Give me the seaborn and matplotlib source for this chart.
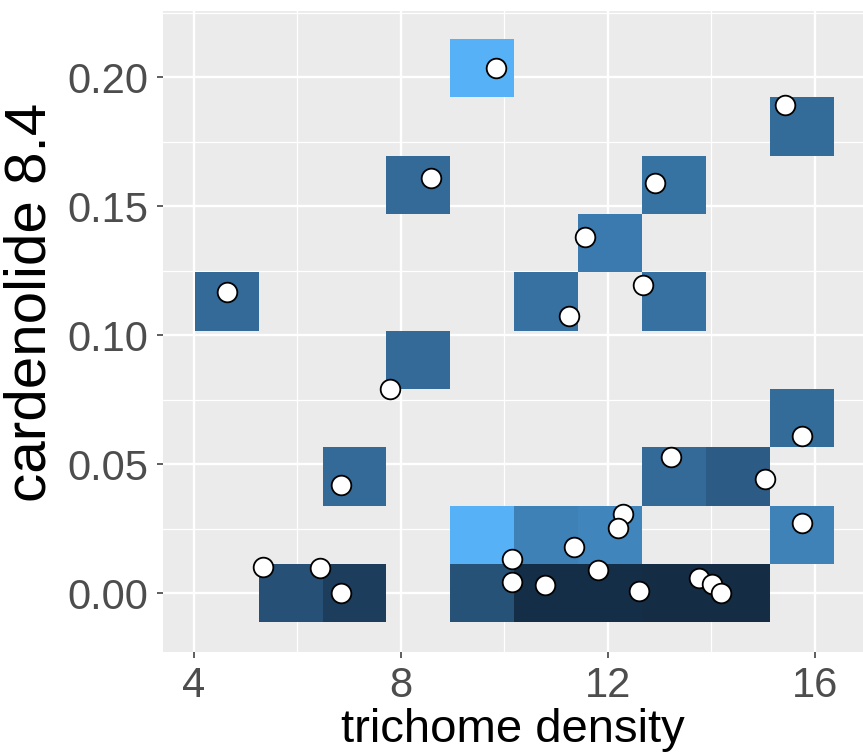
import matplotlib
matplotlib.use("Agg")
import matplotlib.pyplot as plt
from matplotlib.colors import LinearSegmentedColormap
from matplotlib.ticker import MultipleLocator
import seaborn as sns
import numpy as np
import pandas as pd

# points
trichome = [9.84, 8.58, 4.64, 15.43, 12.91, 11.57, 12.68, 11.26, 7.79, 6.85,
            5.35, 6.45, 6.85, 10.15, 10.15, 10.78, 11.34, 11.81, 12.29, 12.20,
            12.60, 13.23, 15.04, 15.75, 15.75, 13.77, 14.01, 14.18]
cardenolide = [0.2035, 0.1609, 0.1167, 0.1892, 0.1592, 0.1379, 0.1195, 0.1074, 0.0792, 0.0419,
               0.0100, 0.0096, 0.0000, 0.0133, 0.0044, 0.0033, 0.0177, 0.0088, 0.0308, 0.0251,
               0.0008, 0.0527, 0.0443, 0.0608, 0.0273, 0.0058, 0.0036, 0.0000]

# filled tiles: bin index in x, bin index in y, fill level (0 = dark, 1 = light)
tile_xbin = [0, 3, 4, 9, 7, 6, 7, 5, 3, 2,
             1, 2, 4, 5, 6, 7, 8,
             4, 5, 6, 9,
             7, 8, 9]
tile_ybin = [5, 7, 9, 8, 7, 6, 5, 5, 4, 2,
             0, 0, 0, 0, 0, 0, 0,
             1, 1, 1, 1,
             2, 2, 3]
tile_fill = [0.47, 0.47, 1.00, 0.48, 0.53, 0.59, 0.52, 0.52, 0.47, 0.47,
             0.28, 0.14, 0.29, 0.02, 0.02, 0.01, 0.01,
             1.00, 0.64, 0.67, 0.65,
             0.47, 0.37, 0.48]

n_bins = 10
x_ticks = [4, 8, 12, 16]
y_ticks = [0.00, 0.05, 0.10, 0.15, 0.20]

# bins centred on the data extremes, like ggplot's bin2d
def bin_edges(v):
    bw = (max(v) - min(v)) / (n_bins - 1)
    return np.linspace(min(v) - bw / 2, max(v) + bw / 2, n_bins + 1)

xe = bin_edges(trichome)
ye = bin_edges(cardenolide)
xc = (xe[:-1] + xe[1:]) / 2
yc = (ye[:-1] + ye[1:]) / 2

tiles = pd.DataFrame({"x": xc[tile_xbin], "y": yc[tile_ybin], "fill": tile_fill})
pts = pd.DataFrame({"trichome density": trichome, "cardenolide 8.4": cardenolide})

plt.rcParams["font.family"] = ["Liberation Sans", "DejaVu Sans"]

fig = plt.figure(figsize=(8.63, 7.55), dpi=100)
ax = fig.add_axes([163 / 863, (755 - 651.7) / 755, 700 / 863, (651.7 - 11) / 755])
ax.set_facecolor("#EBEBEB")

cmap = LinearSegmentedColormap.from_list("gg", ["#132B43", "#56B1F7"])
sns.histplot(data=tiles, x="x", y="y", weights="fill", bins=[xe, ye],
             cmap=cmap, vmin=0, vmax=1, ax=ax, zorder=2)
sns.scatterplot(data=pts, x="trichome density", y="cardenolide 8.4", ax=ax,
                color="white", edgecolor="black", s=200, linewidth=1.3, zorder=3)

ax.set_xlim(3.41, 16.93)
ax.set_ylim(-0.0227, 0.2257)
ax.set_xticks(x_ticks)
ax.set_xticklabels([str(t) for t in x_ticks])
ax.set_yticks(y_ticks)
ax.set_yticklabels([f"{t:.2f}" for t in y_ticks])
ax.xaxis.set_minor_locator(MultipleLocator(2))
ax.yaxis.set_minor_locator(MultipleLocator(0.025))
ax.grid(which="major", color="white", linewidth=1.7)
ax.grid(which="minor", color="white", linewidth=0.9)
ax.set_axisbelow(True)
for s in ax.spines.values():
    s.set_visible(False)

ax.tick_params(which="major", length=4.5, width=1.1, color="#333333",
               labelsize=30, labelcolor="#4D4D4D", pad=6)
ax.tick_params(which="minor", length=0)
ax.set_xlabel("trichome density", fontsize=34, labelpad=1)
ax.set_ylabel("cardenolide 8.4", fontsize=42)
ax.yaxis.set_label_coords(-0.151, 0.545)

fig.savefig("out.png", dpi=100)
